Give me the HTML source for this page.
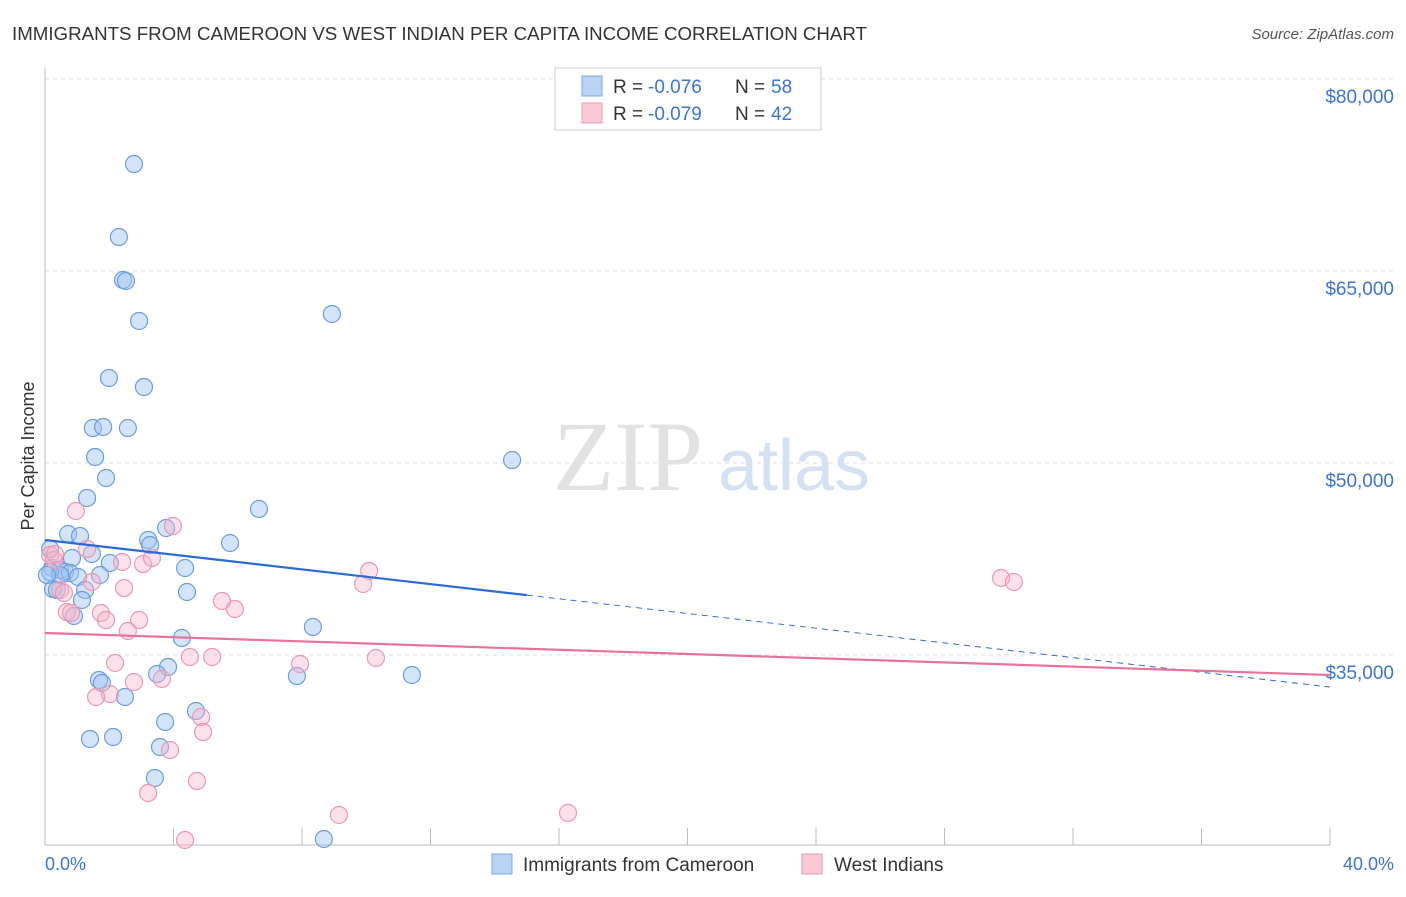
<!DOCTYPE html>
<html><head><meta charset="utf-8"><style>
body{margin:0;background:#fff;font-family:"Liberation Sans",sans-serif}
svg text{font-family:"Liberation Sans",sans-serif}
</style></head><body>
<svg width="1406" height="892" viewBox="0 0 1406 892">
<text x="12" y="40" font-size="18" fill="#333" textLength="855" lengthAdjust="spacingAndGlyphs">IMMIGRANTS FROM CAMEROON VS WEST INDIAN PER CAPITA INCOME CORRELATION CHART</text>
<text x="1394" y="39" font-size="15" fill="#555" font-style="italic" text-anchor="end">Source: ZipAtlas.com</text>
<text x="34" y="456" font-size="18" fill="#333" text-anchor="middle" transform="rotate(-90 34 456)">Per Capita Income</text>
<g id="grid"></g>
<g><text x="553" y="490" font-size="100" fill="#e2e2e2" style="font-family:'Liberation Serif',serif">ZIP</text><text x="718" y="490" font-size="72" fill="#d3e1f3">atlas</text></g>
<line x1="45" y1="68" x2="45" y2="845" stroke="#bbb"/>
<line x1="45" y1="845" x2="1330" y2="845" stroke="#bbb"/>
<g id="ticks"></g>
<text x="45" y="870" font-size="18" fill="#3d74d6">0.0%</text>
<text x="1394" y="870" font-size="18" fill="#3d74d6" text-anchor="end">40.0%</text>
<g id="pts"></g>
<g id="lines"></g>
<g>
<rect x="555" y="68" width="266" height="62" fill="#fff" stroke="#ccc"/>
<rect x="582" y="76" width="20" height="20" fill="#b9d3f3" stroke="#7aa7e3"/>
<rect x="582" y="103" width="20" height="20" fill="#f9c9d6" stroke="#ec9ab3"/>
<text x="613" y="93" font-size="19" fill="#333">R = </text>
<text x="648" y="93" font-size="19" fill="#3d74d6">-0.076</text>
<text x="735" y="93" font-size="19" fill="#333">N = </text>
<text x="771" y="93" font-size="19" fill="#3d74d6">58</text>
<text x="613" y="120" font-size="19" fill="#333">R = </text>
<text x="648" y="120" font-size="19" fill="#3d74d6">-0.079</text>
<text x="735" y="120" font-size="19" fill="#333">N = </text>
<text x="771" y="120" font-size="19" fill="#3d74d6">42</text>
</g>
<g>
<rect x="492" y="854" width="20" height="20" fill="#b9d3f3" stroke="#7aa7e3"/>
<text x="523" y="871" font-size="19" fill="#333">Immigrants from Cameroon</text>
<rect x="802" y="854" width="20" height="20" fill="#f9c9d6" stroke="#ec9ab3"/>
<text x="834" y="871" font-size="19" fill="#333">West Indians</text>
</g>
</svg>
<script>
const yTicks=[80000,65000,50000,35000];
const yTickLabels=["$80,000","$65,000","$50,000","$35,000"];
const xTicks=[0,4,8,12,16,20,24,28,32,36,40];
const bluePx=[[134,164],[119,237],[123,280],[126,281],[139,321],[332,314],[109,378],[144,387],[93,428],[103,427],[128,428],[95,457],[106,478],[512,460],[87,498],[259,509],[68,534],[80,536],[148,540],[166,528],[230,543],[150,545],[50,549],[92,554],[72,558],[110,563],[185,568],[52,568],[60,570],[65,572],[70,573],[78,577],[50,572],[187,592],[53,589],[85,590],[82,600],[74,616],[313,627],[182,638],[168,667],[157,674],[99,680],[102,683],[297,676],[412,675],[125,697],[196,711],[165,722],[90,739],[113,737],[160,747],[155,778],[324,839],[60,575],[47,575],[57,590],[100,575]];
const pinkPx=[[76,511],[173,526],[87,549],[122,562],[143,564],[152,558],[369,571],[363,584],[92,582],[124,588],[50,555],[54,560],[60,590],[64,593],[67,612],[71,613],[101,613],[106,620],[139,620],[222,601],[235,609],[128,631],[1001,578],[1014,582],[115,663],[300,664],[212,657],[190,657],[376,658],[134,682],[162,679],[110,694],[96,697],[201,717],[203,732],[170,750],[197,781],[148,793],[339,815],[568,813],[185,840],[55,554]];
const cameroonX=bluePx.map(p=>+((p[0]-45)/32.125).toFixed(2));
const cameroonY=bluePx.map(p=>Math.round(80000-(p[1]-79)/0.0128));
const westIndianX=pinkPx.map(p=>+((p[0]-45)/32.125).toFixed(2));
const westIndianY=pinkPx.map(p=>Math.round(80000-(p[1]-79)/0.0128));
const blueTrend=[43984,32500];
const pinkTrend=[36719,33437];
const sx=v=>45+v*32.125, sy=v=>79+(80000-v)*0.0128;
const NS="http://www.w3.org/2000/svg";
function mk(tag,attrs,parent){const e=document.createElementNS(NS,tag);for(const k in attrs)e.setAttribute(k,attrs[k]);parent.appendChild(e);return e;}
const grid=document.getElementById('grid');
yTicks.forEach((t,i)=>{
 const l=mk('line',{x1:45,x2:1394,y1:sy(t),y2:sy(t),stroke:'#ddd','stroke-dasharray':'4,4'},grid);
 
 
 const tx=mk('text',{x:1394,y:sy(t)+24,'font-size':19,fill:'#3d74d6','text-anchor':'end'},grid);
 tx.textContent=yTickLabels[i];
 
 
});
const tk=document.getElementById('ticks');
xTicks.forEach(t=>{
 const l=mk('line',{x1:sx(t),x2:sx(t),y1:828,y2:845,stroke:'#bbb'},tk);
 
 
});
const pts=document.getElementById('pts');
cameroonX.forEach((x,i)=>{
 const c=mk('circle',{cx:sx(x),cy:sy(cameroonY[i]),r:8.5,fill:'rgba(160,196,240,0.45)',stroke:'#6a9de0','stroke-width':1.2},pts);
 
 
});
westIndianX.forEach((x,i)=>{
 const c=mk('circle',{cx:sx(x),cy:sy(westIndianY[i]),r:8.5,fill:'rgba(246,180,200,0.4)',stroke:'#ec98b2','stroke-width':1.2},pts);
 
 
});
const ln=document.getElementById('lines');
const bAt=x=>blueTrend[0]+(blueTrend[1]-blueTrend[0])*x/40;
let l1=mk('line',{x1:sx(0),y1:sy(bAt(0)),x2:sx(15),y2:sy(bAt(15)),stroke:'#2a6bd6','stroke-width':2.2},ln);


let l2=mk('line',{x1:sx(15),y1:sy(bAt(15)),x2:sx(40),y2:sy(bAt(40)),stroke:'#2a6bd6','stroke-width':1,'stroke-dasharray':'6,5'},ln);


let l3=mk('line',{x1:sx(0),y1:sy(pinkTrend[0]),x2:sx(40),y2:sy(pinkTrend[1]),stroke:'#e8739a','stroke-width':2.2},ln);


</script>
</body></html>
